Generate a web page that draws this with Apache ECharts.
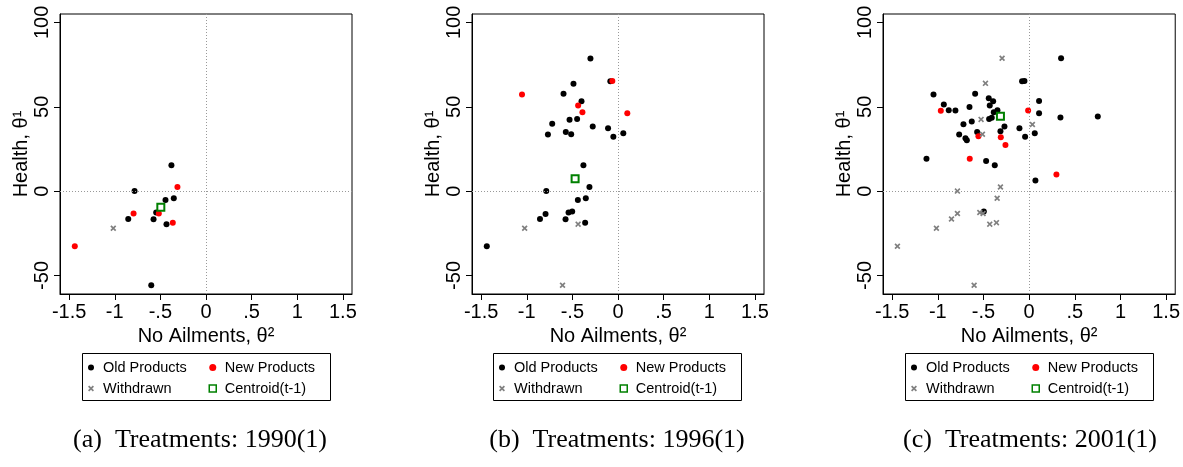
<!DOCTYPE html>
<html>
<head>
<meta charset="utf-8">
<script src="https://cdn.jsdelivr.net/npm/echarts@6/dist/echarts.min.js"></script>
<style>
html, body { margin: 0; padding: 0; background: #fff; }
#main { width: 1183px; height: 467px; }
</style>
</head>
<body>
<div id="main"></div>
<script>
// tick labels
var xTicks = [-1.5, -1, -0.5, 0, 0.5, 1, 1.5];
var xTickLabels = ['-1.5', '-1', '-.5', '0', '.5', '1', '1.5'];
var yTicks = [-50, 0, 50, 100];
var seriesNames = ['Old Products', 'New Products', 'Withdrawn', 'Centroid(t-1)'];
var captions = ['(a)\u2002Treatments: 1990(1)', '(b)\u2002Treatments: 1996(1)', '(c)\u2002Treatments: 2001(1)'];

// (a) 1990
var oldA = [[-0.379, 15.3], [-0.783, 0], [-0.444, -5.2], [-0.353, -4.2], [-0.546, -12.7],
	[-0.852, -16.5], [-0.575, -16.7], [-0.433, -19.6], [-0.600, -55.8]];
var newA = [[-0.313, 2.4], [-0.794, -13.3], [-0.517, -13.3], [-0.364, -18.7], [-1.438, -32.7]];
var wdA = [[-1.016, -22.0]];
var cenA = [[-0.495, -9.5]];

// (b) 1996
var oldB = [[-0.302, 78.6], [-0.084, 65.1], [-0.488, 63.7], [-0.597, 57.7], [-0.400, 53.2],
	[-0.531, 42.3], [-0.448, 42.7], [-0.721, 39.9], [-0.277, 38.3], [-0.109, 37.3],
	[-0.572, 35.1], [-0.768, 33.5], [-0.513, 33.7], [-0.051, 32.3], [0.058, 34.3],
	[-0.379, 15.3], [-0.313, 2.4], [-0.786, 0], [-0.440, -5.2], [-0.353, -4.2],
	[-0.542, -12.7], [-0.502, -12.1], [-0.794, -13.5], [-0.855, -16.5], [-0.575, -16.7],
	[-0.360, -18.7], [-1.438, -32.7]];
var newB = [[-1.052, 57.3], [-0.062, 65.3], [-0.437, 50.8], [-0.390, 46.8], [0.102, 46.2]];
var wdB = [[-1.023, -22.0], [-0.437, -19.6], [-0.608, -55.8]];
var cenB = [[-0.470, 7.3]];

// (c) 2001
var oldC = [[0.350, 78.8], [-0.077, 65.1], [-0.051, 65.3], [-1.047, 57.3], [-0.591, 57.7],
	[-0.442, 55.0], [-0.394, 53.2], [0.109, 53.4], [-0.934, 51.4], [-0.431, 50.8],
	[-0.653, 49.8], [-0.880, 48.0], [-0.807, 47.8], [-0.347, 48.0], [-0.387, 46.8],
	[0.109, 46.2], [-0.438, 42.7], [-0.409, 43.5], [0.343, 43.7], [0.752, 44.2],
	[-0.628, 41.3], [-0.719, 39.7], [-0.270, 38.3], [-0.106, 37.3], [-0.569, 35.1],
	[-0.314, 35.5], [-0.766, 33.5], [-0.044, 32.3], [0.062, 34.3], [-0.697, 31.3],
	[-0.682, 30.2], [-1.124, 19.2], [-0.471, 17.9], [-0.376, 15.3], [0.069, 6.3],
	[-0.496, -12.1]];
var newC = [[-0.967, 47.6], [-0.011, 47.8], [-0.555, 32.5], [-0.310, 31.9], [-0.259, 27.4],
	[-0.650, 19.2], [0.299, 9.9]];
var wdC = [[-0.296, 78.8], [-0.478, 63.9], [-0.526, 42.5], [0.036, 39.5], [-0.511, 33.7],
	[-0.314, 2.4], [-0.785, 0], [-0.350, -4.2], [-0.540, -12.7], [-0.504, -13.3],
	[-0.785, -13.3], [-0.850, -16.5], [-0.358, -18.7], [-0.431, -19.6], [-1.015, -22.0],
	[-1.442, -32.7], [-0.602, -55.8]];
var cenC = [[-0.314, 44.4]];

var panels = [
	{old: oldA, nw: newA, wd: wdA, cen: cenA},
	{old: oldB, nw: newB, wd: wdB, cen: cenB},
	{old: oldC, nw: newC, wd: wdC, cen: cenC}
];

var gridLeft = [60, 472, 883];
var gridWidth = [292, 292, 293];
var boxLeft = [82.5, 493.5, 905.5];
var capCenter = [200, 617, 1030];

var sans = '"Liberation Sans", Arial, Helvetica, sans-serif';
var serif = '"Liberation Serif", "Times New Roman", serif';
var crossPath = 'path://M0,2L2,0L5,3L8,0L10,2L7,5L10,8L8,10L5,7L2,10L0,8L3,5Z';
var squarePath = 'path://M0,0H10V10H0Z';

var grids = [], xAxes = [], yAxes = [], series = [], legends = [], graphics = [];

for (var i = 0; i < 3; i++) {
	grids.push({
		left: gridLeft[i], top: 14, width: gridWidth[i], height: 280,
		show: true, borderColor: '#000', borderWidth: 1
	});
	xAxes.push({
		gridIndex: i, type: 'value', min: -1.6, max: 1.6,
		name: 'No Ailments, θ²', nameLocation: 'middle', nameGap: 27,
		nameTextStyle: {fontFamily: sans, fontSize: 20, color: '#000'},
		axisLine: {onZero: false, lineStyle: {color: '#000', width: 1}},
		axisTick: {customValues: xTicks, length: 6, lineStyle: {color: '#000'}},
		axisLabel: {
			customValues: xTicks, margin: 8, fontFamily: sans, fontSize: 20, color: '#000',
			formatter: function(v) {
				var k = xTicks.indexOf(v);
				return k >= 0 ? xTickLabels[k] : String(v);
			}
		},
		splitLine: {show: false}
	});
	yAxes.push({
		gridIndex: i, type: 'value', min: -61, max: 105,
		name: 'Health, θ¹', nameLocation: 'middle', nameGap: 29,
		nameTextStyle: {fontFamily: sans, fontSize: 20, color: '#000'},
		axisLine: {onZero: false, lineStyle: {color: '#000', width: 1}},
		axisTick: {customValues: yTicks, length: 6, lineStyle: {color: '#000'}},
		axisLabel: {customValues: yTicks, rotate: 90, margin: 8, fontFamily: sans, fontSize: 20, color: '#000'},
		splitLine: {show: false}
	});

	var p = panels[i];
	series.push({
		name: seriesNames[0], type: 'scatter', xAxisIndex: i, yAxisIndex: i,
		data: p.old, symbol: 'circle', symbolSize: 6,
		itemStyle: {color: '#000', opacity: 1},
		markLine: {
			silent: true, symbol: ['none', 'none'], label: {show: false},
			lineStyle: {type: [1, 2], color: '#999', width: 1},
			data: [{xAxis: 0}, {yAxis: 0}]
		}
	});
	series.push({
		name: seriesNames[1], type: 'scatter', xAxisIndex: i, yAxisIndex: i,
		data: p.nw, symbol: 'circle', symbolSize: 6,
		itemStyle: {color: '#ff0000', opacity: 1}
	});
	series.push({
		name: seriesNames[2], type: 'scatter', xAxisIndex: i, yAxisIndex: i,
		data: p.wd, symbol: crossPath, symbolSize: 6,
		itemStyle: {color: '#808080', opacity: 1}
	});
	series.push({
		name: seriesNames[3], type: 'scatter', xAxisIndex: i, yAxisIndex: i,
		data: p.cen, symbol: 'rect', symbolSize: 7,
		itemStyle: {color: '#fff', borderColor: '#008000', borderWidth: 2, opacity: 1}
	});

	// legend: two columns inside a box
	var legText = {fontFamily: sans, fontSize: 14.5, color: '#000', lineHeight: 16};
	legends.push({
		left: boxLeft[i] + 5.5, top: 359.5, orient: 'vertical', padding: 0, itemGap: 5,
		itemWidth: 14, itemHeight: 6, selectedMode: false, textStyle: legText,
		data: [seriesNames[0], seriesNames[2]]
	});
	legends.push({
		left: boxLeft[i] + 126, top: 359.5, orient: 'vertical', padding: 0, itemGap: 5,
		itemWidth: 14, itemHeight: 7, selectedMode: false, textStyle: legText,
		data: [seriesNames[1], {
			name: seriesNames[3], icon: squarePath,
			itemStyle: {color: '#fff', borderColor: '#008000', borderWidth: 1.5}
		}]
	});
	graphics.push({
		type: 'rect', silent: true,
		shape: {x: boxLeft[i], y: 353.5, width: 248, height: 47},
		style: {fill: 'none', stroke: '#000', lineWidth: 1}
	});
	graphics.push({
		type: 'text', silent: true, x: capCenter[i], y: 440,
		style: {
			text: captions[i], align: 'center', verticalAlign: 'middle',
			textAlign: 'center', textVerticalAlign: 'middle',
			fontFamily: serif, fontSize: 26, fill: '#000'
		}
	});
}

var chart = echarts.init(document.getElementById('main'));
chart.setOption({
	animation: false,
	backgroundColor: '#fff',
	grid: grids,
	xAxis: xAxes,
	yAxis: yAxes,
	legend: legends,
	graphic: graphics,
	series: series
});
</script>
</body>
</html>
